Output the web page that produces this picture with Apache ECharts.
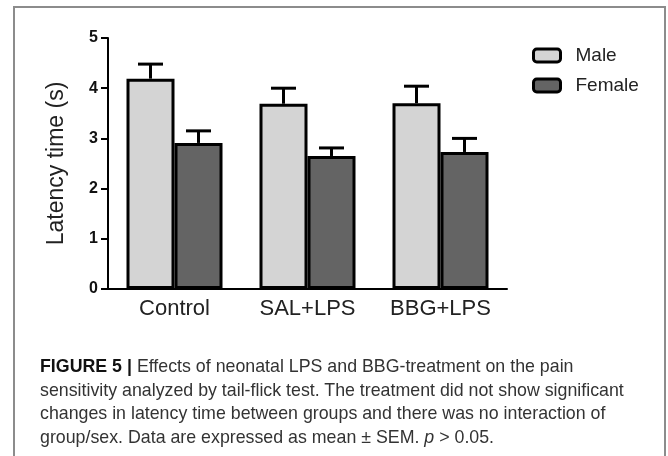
<!DOCTYPE html>
<html>
<head>
<meta charset="utf-8">
<script src="https://cdn.jsdelivr.net/npm/echarts@6/dist/echarts.min.js"></script>
<style>
  body { margin: 0; background: #fff; }
  .frame {
    position: absolute; left: 13px; top: 6px; width: 649px; height: 470px;
    border: 2px solid #8c8c8c; border-bottom: none;
  }
  #main { position: absolute; left: 0; top: 0; width: 668px; height: 456px; }
  .caption {
    position: absolute; left: 40px; top: 355px; width: 620px;
    font-family: "Liberation Sans", Arial, sans-serif; font-size: 17.8px;
    line-height: 23.5px; color: #333; white-space: nowrap;
  }
  .caption b { color: #111; }
</style>
</head>
<body>
<div class="frame"></div>
<div id="main"></div>
<div class="caption"><b>FIGURE 5</b> <b>|</b> Effects of neonatal LPS and BBG-treatment on the pain<br>sensitivity analyzed by tail-flick test. The treatment did not show significant<br>changes in latency time between groups and there was no interaction of<br>group/sex. Data are expressed as mean &plusmn; SEM. <i>p</i> &gt; 0.05.</div>
<script>
var categories = ['Control', 'SAL+LPS', 'BBG+LPS']
var maleMean = [4.19, 3.69, 3.70]
var maleSem = [0.29, 0.31, 0.34]
var femaleMean = [2.91, 2.65, 2.73]
var femaleSem = [0.24, 0.16, 0.27]
var yTicks = [0, 1, 2, 3, 4, 5]

function errorSeries(mean, sem, offset) {
  return {
    type: 'custom',
    z: 3,
    silent: true,
    data: mean.map(function(m, i) { return [i, m, m + sem[i]] }),
    encode: { x: 0, y: [1, 2] },
    renderItem: function(params, api) {
      var lo = api.coord([api.value(0), api.value(1)])
      var hi = api.coord([api.value(0), api.value(2)])
      var x = lo[0] + offset
      var style = { stroke: '#000', lineWidth: 3 }
      return {
        type: 'group',
        children: [
          { type: 'line', shape: { x1: x, y1: lo[1], x2: x, y2: hi[1] }, style: style },
          { type: 'line', shape: { x1: x - 12.5, y1: hi[1], x2: x + 12.5, y2: hi[1] }, style: style }
        ]
      }
    }
  }
}

var myChart = echarts.init(document.getElementById('main'))
myChart.setOption({
  animation: false,
  grid: { left: 108, right: 161, top: 38, bottom: 167, outerBoundsMode: 'none' },
  legend: {
    data: ['Male', 'Female'],
    orient: 'vertical',
    left: 527,
    top: 41,
    icon: 'roundRect',
    itemWidth: 27,
    itemHeight: 13,
    itemGap: 11,
    itemStyle: { borderColor: '#000', borderWidth: 3 },
    textStyle: { fontFamily: 'Liberation Sans', fontSize: 19, color: '#222', padding: [0, 0, 0, 10] }
  },
  xAxis: {
    type: 'category',
    data: categories,
    axisLine: { lineStyle: { color: '#000', width: 2 } },
    axisTick: { show: false },
    axisLabel: { fontFamily: 'Liberation Sans', fontSize: 22, color: '#222', margin: 9 },
    splitLine: { show: false }
  },
  yAxis: {
    type: 'value',
    min: 0,
    max: 5,
    interval: 1,
    name: 'Latency time (s)',
    nameLocation: 'middle',
    nameRotate: 90,
    nameGap: 40,
    nameTextStyle: { fontFamily: 'Liberation Sans', fontSize: 23, color: '#222' },
    axisLine: { show: true, lineStyle: { color: '#000', width: 2 } },
    axisTick: { show: true, length: 7, lineStyle: { color: '#000', width: 2 } },
    axisLabel: {
      fontFamily: 'Liberation Sans', fontSize: 16, fontWeight: 'bold', color: '#111', margin: 10,
      formatter: function(v) { return yTicks.indexOf(v) >= 0 ? String(v) : '' }
    },
    splitLine: { show: false }
  },
  series: [
    {
      name: 'Male',
      type: 'bar',
      data: maleMean,
      barWidth: 48,
      barGap: '0%',
      itemStyle: { color: '#d4d4d4', borderColor: '#000', borderWidth: 3 }
    },
    {
      name: 'Female',
      type: 'bar',
      data: femaleMean,
      barWidth: 48,
      barGap: '0%',
      itemStyle: { color: '#646464', borderColor: '#000', borderWidth: 3 }
    },
    errorSeries(maleMean, maleSem, -24),
    errorSeries(femaleMean, femaleSem, 24)
  ]
})
</script>
</body>
</html>
